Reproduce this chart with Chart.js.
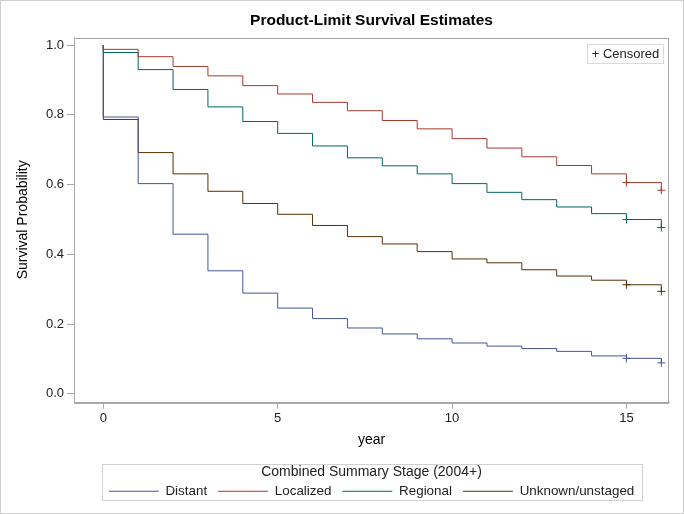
<!DOCTYPE html>
<html>
<head>
<meta charset="utf-8">
<script src="https://cdn.jsdelivr.net/npm/chart.js@4.4.1/dist/chart.umd.min.js"></script>
<style>
  html, body { margin: 0; padding: 0; background: #fff; }
</style>
</head>
<body>
<canvas id="survChart" width="684" height="514"></canvas>
<script>
// time points (year 0 appears twice: start at 1.0, then the drop at time 0)
const years = [0, 0, 1, 2, 3, 4, 5, 6, 7, 8, 9, 10, 11, 12, 13, 14, 15, 16];

const distant    = [1.0, 0.794, 0.603, 0.458, 0.353, 0.289, 0.246, 0.216, 0.189, 0.172, 0.158, 0.146, 0.137, 0.130, 0.122, 0.109, 0.102, 0.089];
const localized  = [1.0, 0.988, 0.967, 0.939, 0.912, 0.884, 0.860, 0.836, 0.812, 0.784, 0.760, 0.732, 0.705, 0.680, 0.655, 0.631, 0.606, 0.584];
const regional   = [1.0, 0.979, 0.930, 0.873, 0.823, 0.781, 0.747, 0.711, 0.677, 0.654, 0.631, 0.603, 0.578, 0.557, 0.536, 0.517, 0.500, 0.477];
const unknown    = [1.0, 0.787, 0.692, 0.631, 0.581, 0.546, 0.515, 0.483, 0.451, 0.430, 0.408, 0.387, 0.376, 0.356, 0.338, 0.326, 0.313, 0.294];

const censorYears = [15, 16];

const xTicks = [0, 5, 10, 15];
const yTicks = [0, 0.2, 0.4, 0.6, 0.8, 1.0];
const yTickLabels = ['0.0', '0.2', '0.4', '0.6', '0.8', '1.0'];

const groups = [
    { label: 'Distant', values: distant, color: '#445694' },
    { label: 'Localized', values: localized, color: '#A23A2E' },
    { label: 'Regional', values: regional, color: '#01665E' },
    { label: 'Unknown/unstaged', values: unknown, color: '#543005' }
];

Chart.defaults.font.family = '"Liberation Sans", Arial, sans-serif';
Chart.defaults.color = '#222';

const datasets = [];
groups.forEach(g => {
    datasets.push({
        label: g.label,
        data: years.map((yr, i) => ({ x: yr, y: g.values[i] })),
        borderColor: g.color,
        backgroundColor: g.color,
        borderWidth: 1,
        stepped: 'before',
        pointRadius: 0,
        fill: false
    });
});
groups.forEach(g => {
    datasets.push({
        label: g.label + ' censored',
        censor: true,
        data: censorYears.map(yr => ({ x: yr, y: g.values[years.lastIndexOf(yr)] })),
        showLine: false,
        pointStyle: 'cross',
        pointRadius: 4,
        pointBorderWidth: 1,
        borderColor: g.color,
        backgroundColor: g.color
    });
});

const frames = {
    id: 'frames',
    afterLayout(chart) {
        // centre title and legend over the plot area
        const ca = chart.chartArea;
        const mid = (ca.left + ca.right) / 2;
        [chart.titleBlock, chart.legend].forEach(box => {
            const shift = mid - (box.left + box.right) / 2;
            box.left += shift;
            box.right += shift;
        });
    },
    afterDraw(chart) {
        const ctx = chart.ctx;
        const ca = chart.chartArea;
        ctx.save();
        ctx.lineWidth = 1;

        // outer border
        ctx.strokeStyle = '#d0d0d0';
        ctx.strokeRect(0.5, 0.5, chart.width - 1, chart.height - 1);

        // plot frame
        ctx.strokeStyle = '#a8a8a8';
        ctx.strokeRect(Math.round(ca.left) + 0.5, Math.round(ca.top) + 0.5,
            Math.round(ca.right - ca.left) - 1, Math.round(ca.bottom - ca.top));

        // censored inset
        const bx = Math.round(ca.right) - 81.5, by = Math.round(ca.top) + 6.5;
        ctx.strokeStyle = '#dadada';
        ctx.strokeRect(bx, by, 76, 19);
        ctx.fillStyle = '#222';
        ctx.font = '13px "Liberation Sans", Arial, sans-serif';
        ctx.textAlign = 'center';
        ctx.textBaseline = 'middle';
        ctx.fillText('+ Censored', bx + 38, by + 10);

        // legend frame
        const lg = chart.legend;
        const hb = lg.legendHitBoxes;
        if (hb && hb.length) {
            const l = Math.min(...hb.map(h => h.left)) - 7;
            const r = Math.max(...hb.map(h => h.left + h.width)) + 7;
            const t = lg.top + 13;
            ctx.strokeStyle = '#d0d0d0';
            ctx.strokeRect(Math.round(l) + 0.5, Math.round(t) + 0.5, Math.round(r - l), 36);
        }
        ctx.restore();
    }
};

const ctx = document.getElementById('survChart').getContext('2d');

const survChart = new Chart(ctx, {
    type: 'line',
    data: { datasets: datasets },
    plugins: [frames],
    options: {
        responsive: false,
        animation: false,
        layout: { padding: { left: 0, right: 15, top: 0, bottom: 6 } },
        scales: {
            x: {
                type: 'linear',
                min: -0.84,
                max: 16.22,
                afterBuildTicks: s => { s.ticks = xTicks.map(v => ({ value: v })); },
                afterFit: s => { s.height = 48.9; },
                ticks: { font: { size: 13 }, color: '#222', padding: 2 },
                grid: { drawOnChartArea: false, tickLength: 6.5, color: '#a8a8a8' },
                border: { color: '#a8a8a8' },
                title: {
                    display: true,
                    text: 'year',
                    color: '#000',
                    font: { size: 14 },
                    padding: { top: 0, bottom: 2 }
                }
            },
            y: {
                min: -0.0235,
                max: 1.022,
                afterBuildTicks: s => { s.ticks = yTicks.map(v => ({ value: v })); },
                afterFit: s => { s.width = 74; },
                ticks: {
                    font: { size: 13 },
                    color: '#222',
                    padding: 3,
                    callback: value => yTickLabels[yTicks.indexOf(value)]
                },
                grid: { drawOnChartArea: false, tickLength: 7, color: '#a8a8a8' },
                border: { color: '#a8a8a8' },
                title: {
                    display: true,
                    text: 'Survival Probability',
                    color: '#000',
                    font: { size: 14 },
                    padding: { top: 15, bottom: 0 }
                }
            }
        },
        plugins: {
            title: {
                display: true,
                text: 'Product-Limit Survival Estimates',
                color: '#000',
                font: { size: 15.5, weight: 'bold' },
                padding: { top: 11.1, bottom: 7.8 }
            },
            legend: {
                display: true,
                position: 'bottom',
                title: {
                    display: true,
                    text: 'Combined Summary Stage (2004+)',
                    color: '#222',
                    font: { size: 14, lineHeight: 8 / 14 },
                    padding: { top: 14.6, bottom: 0 }
                },
                labels: {
                    font: { size: 13.4 },
                    color: '#222',
                    boxWidth: 50,
                    boxHeight: 1,
                    padding: 11,
                    filter: item => !item.text.endsWith('censored'),
                    generateLabels: chart => Chart.defaults.plugins.legend.labels.generateLabels(chart)
                        .map(item => {
                            const c = groups[item.datasetIndex] ? groups[item.datasetIndex].color : item.fillStyle;
                            return Object.assign(item, { fillStyle: c, strokeStyle: c, lineWidth: 0 });
                        })
                }
            },
            tooltip: { enabled: false }
        }
    }
});
</script>
</body>
</html>
